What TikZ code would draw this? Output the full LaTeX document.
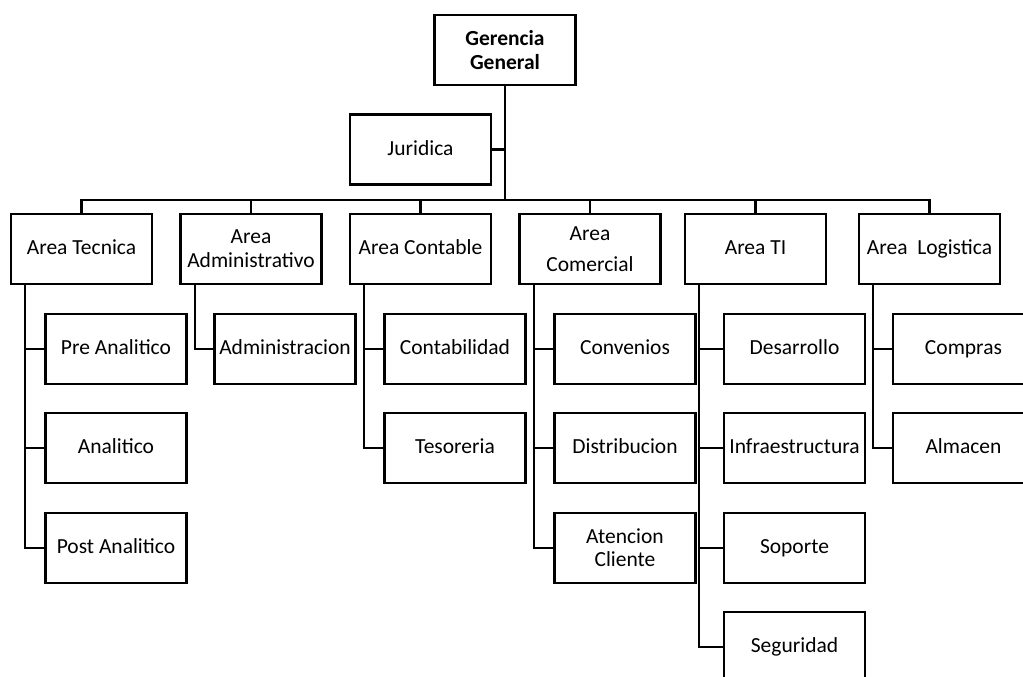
\documentclass[tikz,border=0pt]{standalone}
\usepackage{fontspec}
\setmainfont{Carlito}
\begin{document}
\begin{tikzpicture}[x=1pt,y=-1pt,
  box/.style={draw,line width=2.4pt,minimum width=141pt,minimum height=70pt,inner sep=0pt,align=center,font=\fontsize{21.5}{24}\selectfont},
  one/.style={box,text height=15pt,text depth=3.5pt},
  conn/.style={line width=2.6pt}]
\useasboundingbox[fill=white] (0,0) rectangle (1023,677);
\clip (0,0) rectangle (1023,677);
% top
\node[box,font=\fontsize{21.5}{24}\selectfont\bfseries] (ger) at (505,50) {Gerencia\\General};
\node[one] (jur) at (420.5,149.5) {Juridica};
% level 1
\node[one] (a1) at (81.5,249) {Area Tecnica};
\node[box] (a2) at (251,249) {Area\\Administrativo};
\node[one] (a3) at (420.5,249) {Area Contable};
\node[box,font=\fontsize{21.5}{31}\selectfont] (a4) at (590,249) {Area\\Comercial};
\node[one] (a5) at (755.5,249) {Area TI};
\node[one] (a6) at (929.5,249) {Area\ \ Logistica};
% children
\node[one] (c11) at (116,349) {Pre Analitico};
\node[one] (c12) at (116,448) {Analitico};
\node[one] (c13) at (116,548) {Post Analitico};
\node[one] (c21) at (285,349) {Administracion};
\node[one] (c31) at (455,349) {Contabilidad};
\node[one] (c32) at (455,448) {Tesoreria};
\node[one] (c41) at (625,349) {Convenios};
\node[one] (c42) at (625,448) {Distribucion};
\node[box,font=\fontsize{21.5}{23}\selectfont] (c43) at (625,548) {Atencion\\Cliente};
\node[one] (c51) at (794.5,349) {Desarrollo};
\node[one] (c52) at (794.5,448) {Infraestructura};
\node[one] (c53) at (794.5,548) {Soporte};
\node[one] (c54) at (794.5,647) {Seguridad};
\node[one] (c61) at (963.5,349) {Compras};
\node[one] (c62) at (963.5,448) {Almacen};
% bus
\coordinate (bus) at (0,200);
\draw[conn] (ger.south) -- (ger.south |- bus);
\draw[conn] (jur.east) -- (jur.east -| ger.south);
\draw[conn] (a1.north) -- (a1.north |- bus) -- (a6.north |- bus) -- (a6.north);
\foreach \n in {a2,a3,a4,a5} \draw[conn] (\n.north) -- (\n.north |- bus);
% columns
\coordinate (t1) at (25,0);
\coordinate (t2) at (195,0);
\coordinate (t3) at (364,0);
\coordinate (t4) at (534,0);
\coordinate (t5) at (699,0);
\coordinate (t6) at (873,0);
\draw[conn] (a1.south -| t1) |- (c13.west);
\draw[conn] (c11.west) -- (c11.west -| t1);
\draw[conn] (c12.west) -- (c12.west -| t1);
\draw[conn] (a2.south -| t2) |- (c21.west);
\draw[conn] (a3.south -| t3) |- (c32.west);
\draw[conn] (c31.west) -- (c31.west -| t3);
\draw[conn] (a4.south -| t4) |- (c43.west);
\draw[conn] (c41.west) -- (c41.west -| t4);
\draw[conn] (c42.west) -- (c42.west -| t4);
\draw[conn] (a5.south -| t5) |- (c54.west);
\draw[conn] (c51.west) -- (c51.west -| t5);
\draw[conn] (c52.west) -- (c52.west -| t5);
\draw[conn] (c53.west) -- (c53.west -| t5);
\draw[conn] (a6.south -| t6) |- (c62.west);
\draw[conn] (c61.west) -- (c61.west -| t6);
\end{tikzpicture}
\end{document}
